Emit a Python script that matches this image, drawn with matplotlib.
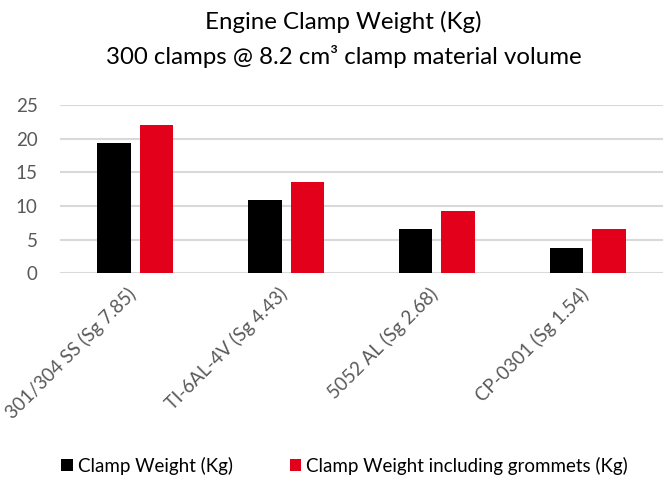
import numpy as np
import matplotlib
matplotlib.use("Agg")
import matplotlib.pyplot as plt
from matplotlib.transforms import ScaledTranslation

categories = ["301/304 SS (Sg 7.85)", "TI-6AL-4V (Sg 4.43)", "5052 AL (Sg 2.68)", "CP-0301 (Sg 1.54)"]
clamp_weight = [19.3, 10.9, 6.6, 3.8]
clamp_weight_grommets = [22.0, 13.6, 9.3, 6.5]
series_names = ["Clamp Weight (Kg)", "Clamp Weight including grommets (Kg)"]

plt.rcParams['font.family'] = ['Lato', 'DejaVu Sans']

fig = plt.figure(figsize=(6.67, 4.8), dpi=100)
ax = fig.add_axes([0.09, 0.431, 0.904, 0.35])

x = np.arange(len(categories))
w = 0.222
ax.bar(x - 0.141, clamp_weight, w, color="#000000", label=series_names[0], zorder=3)
ax.bar(x + 0.141, clamp_weight_grommets, w, color="#e2001a", label=series_names[1], zorder=3)

ax.set_xlim(-0.5, len(categories) - 0.5)
ax.set_ylim(0, 25)
ax.set_yticks([0, 5, 10, 15, 20, 25])
ax.grid(axis="y", color="#d9d9d9", linewidth=1.5, zorder=0)
for s in ax.spines.values():
    s.set_visible(False)
ax.tick_params(axis="y", length=0, labelsize=13.5, colors="#595959", pad=16)
ax.tick_params(axis="x", length=0, pad=0)
ax.set_xticks(x)
ax.set_xticklabels(categories, rotation=45, ha="right", va="center",
                   rotation_mode="anchor", fontsize=13.5, color="#595959")
for lbl in ax.get_xticklabels():
    lbl.set_transform(lbl.get_transform() + ScaledTranslation(-0.02, -0.18, fig.dpi_scale_trans))

fig.text(0.515, 0.955, "Engine Clamp Weight (Kg)", ha="center", va="center", fontsize=17.3, color="#000000")
fig.text(0.515, 0.882, "300 clamps @ 8.2 cm³ clamp material volume", ha="center", va="center", fontsize=17.3, color="#000000")

fig.legend(loc="center", bbox_to_anchor=(0.517, 0.03), ncol=2, frameon=False,
           fontsize=13.5, handlelength=0.6, handleheight=0.6, handletextpad=0.3,
           columnspacing=3.0)

fig.savefig("out.png", dpi=100)
